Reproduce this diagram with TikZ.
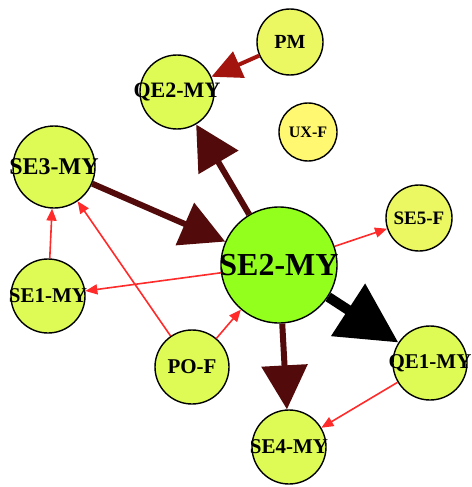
\documentclass[tikz,border=0pt]{standalone}
\usepackage{fontspec}
\setmainfont{Liberation Serif}
\usetikzlibrary{arrows.meta}
\definecolor{verdeSE}{HTML}{92FF1C}
\definecolor{limaN}{HTML}{DDFA55}
\definecolor{limaC}{HTML}{EBF862}
\definecolor{amarilloU}{HTML}{FFF870}
\definecolor{granate}{HTML}{520A0A}
\definecolor{rojoO}{HTML}{A3140F}
\definecolor{rojoT}{HTML}{FF2A2A}

\begin{document}
\begin{tikzpicture}[x=1pt,y=-1pt,
    nodo/.style={circle,draw,line width=1.4pt,inner sep=0pt},
    etiq/.style={font=\fontsize{#1}{#1}\selectfont\bfseries,inner sep=0pt},
    grueso/.style={granate,line width=6pt,-{Triangle[length=44pt,width=45pt]}},
    negro/.style={black,line width=10pt,-{Triangle[length=60pt,width=60pt]}},
    medio/.style={rojoO,line width=4pt,-{Triangle[length=30pt,width=28pt]}},
    fino/.style={rojoT,line width=1.6pt,-{Triangle[length=12pt,width=10pt]}}]
  \useasboundingbox (0,0) rectangle (471,487);
  % circulos
  \node[nodo,fill=verdeSE,minimum size=116pt] (se2) at (279,265) {};
  \node[nodo,fill=limaC,minimum size=66pt] (pm) at (290,42) {};
  \node[nodo,fill=limaN,minimum size=74pt] (qe2) at (177,92) {};
  \node[nodo,fill=amarilloU,minimum size=58pt] (ux) at (308,132) {};
  \node[nodo,fill=limaN,minimum size=82pt] (se3) at (54,167) {};
  \node[nodo,fill=limaC,minimum size=66pt] (se5) at (419,218) {};
  \node[nodo,fill=limaN,minimum size=74pt] (se1) at (48,296) {};
  \node[nodo,fill=limaN,minimum size=74pt] (po) at (192,367) {};
  \node[nodo,fill=limaN,minimum size=74pt] (qe1) at (430,363) {};
  \node[nodo,fill=limaN,minimum size=74pt] (se4) at (289,447) {};
  % aristas
  \draw[medio] (pm) -- (qe2);
  \draw[grueso] (se2) -- (qe2);
  \draw[grueso] (se3) -- (se2);
  \draw[grueso] (se2) -- (se4);
  \draw[negro] (se2) -- (qe1);
  \draw[fino] (se2) -- (se5);
  \draw[fino] (se2) -- (se1);
  \draw[fino] (po) -- (se2);
  \draw[fino] (po) -- (se3);
  \draw[fino] (se1) -- (se3);
  \draw[fino] (qe1) -- (se4);
  % etiquetas
  \node[etiq=32] at (se2) {SE2-MY};
  \node[etiq=20] at (pm) {PM};
  \node[etiq=22] at (qe2) {QE2-MY};
  \node[etiq=16] at (ux) {UX-F};
  \node[etiq=24] at (se3) {SE3-MY};
  \node[etiq=19] at (se5) {SE5-F};
  \node[etiq=21] at (se1) {SE1-MY};
  \node[etiq=21] at (po) {PO-F};
  \node[etiq=21] at (qe1) {QE1-MY};
  \node[etiq=21] at (se4) {SE4-MY};
\end{tikzpicture}
\end{document}
